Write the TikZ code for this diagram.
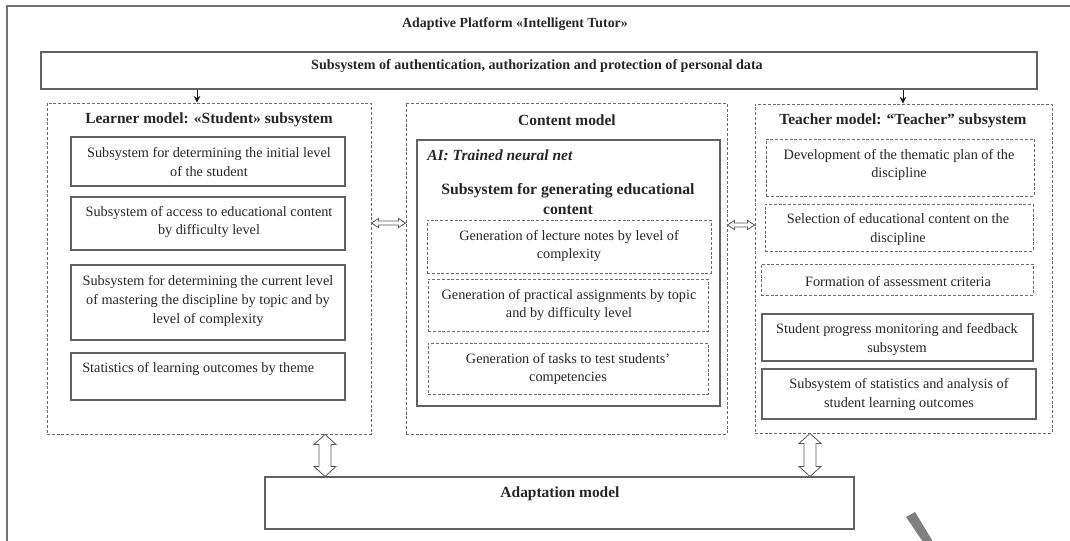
\documentclass[tikz,border=0pt]{standalone}
\usepackage{fontspec}
\setmainfont{Liberation Serif}
\usetikzlibrary{arrows.meta,fit,calc}

\newcommand\boxtextfont{\fontsize{10.7}{14.2}\selectfont}
\newcommand\headfont{\fontsize{11.6}{15}\selectfont\bfseries}

% hollow double-headed block arrows: horizontal (left, right) and vertical (top, bottom)
\newcommand\hollowh[2]{%
  \draw[hollowline] let \p1=(#1), \p2=(#2) in
    (\p1) -- ++(5.25pt,3.4pt) -- ++(0,-1.9pt) -- (\x2-5.25pt,\y1+1.5pt) -- ++(0,1.9pt)
    -- (\x2,\y1) -- ++(-5.25pt,-3.4pt) -- ++(0,1.9pt) -- (\x1+5.25pt,\y1-1.5pt)
    -- ++(0,-1.9pt) -- cycle;}
\newcommand\hollowv[2]{%
  \draw[hollowline] let \p1=(#1), \p2=(#2) in
    (\p1) -- ++(8.25pt,-7.5pt) -- ++(-3.75pt,0) -- (\x1+4.5pt,\y2+7.5pt) -- ++(3.75pt,0)
    -- (\x1,\y2) -- ++(-8.25pt,7.5pt) -- ++(3.75pt,0) -- (\x1-4.5pt,\y1-7.5pt)
    -- ++(-3.75pt,0) -- cycle;}

\begin{document}
\begin{tikzpicture}[x=0.75pt,y=-0.75pt,
  every node/.style={text=black!85},
  outerline/.style={draw=black!55, line width=1.1pt},
  sbox/.style={draw=black!62, line width=0.8pt, inner sep=0pt},
  dbox/.style={draw=black!58, line width=0.7pt, dash pattern=on 2.2pt off 1.4pt, inner sep=0pt},
  txt/.style={inner sep=0pt, align=center, font=\boxtextfont},
  head/.style={inner sep=0pt, font=\headfont},
  hollowline/.style={draw=black!65, line width=0.6pt, fill=white, line join=miter},
  feed/.style={draw=black!90, line width=0.7pt, -{Stealth[length=5pt,width=5pt]}}
]
\useasboundingbox (0,0) rectangle (1070,541);

% platform frame (runs past the page edges)
\draw[outerline] (7,545) -- (7,6) -- (1075,6);
\node[inner sep=0pt, font=\fontsize{10.4}{13}\selectfont\bfseries] (title) at (515,24)
  {Adaptive Platform «Intelligent Tutor»};

% authentication layer
\node[sbox, fit={(41,52) (1037,89)}] (auth) {};
\node[inner sep=0pt, font=\fontsize{10.6}{13}\selectfont\bfseries] (authT) at (537,66)
  {Subsystem of authentication, authorization and protection of personal data};

% learner model
\node[dbox, fit={(47,103) (371,434)}] (learner) {};
\node[head] (learnerT) at (209,120) {Learner model: «Student» subsystem};
\node[sbox, fit={(71,137) (345,186)}] (l1) {};
\node[txt] (l1T) at (209,162) {Subsystem for determining the initial level\\of the student};
\node[sbox, fit={(71,197) (345,250)}] (l2) {};
\node[txt] (l2T) at (209,222) {Subsystem of access to educational content\\by difficulty level};
\node[sbox, fit={(71,265) (345,340)}] (l3) {};
\node[txt] (l3T) at (208,301)
  {Subsystem for determining the current level\\of mastering the discipline by topic and by\\level of complexity};
\node[sbox, fit={(71,353) (345,400)}] (l4) {};
\node[txt, anchor=west] (l4T) at (82,369) {Statistics of learning outcomes by theme};

% content model
\node[dbox, fit={(406,103) (727,434)}] (content) {};
\node[head] (contentT) at (567,120) {Content model};
\node[sbox, fit={(417,140) (720,406)}] (ai) {};
\node[inner sep=0pt, anchor=west, font=\fontsize{11.6}{15}\selectfont\bfseries\itshape] (aiT)
  at (427,155) {AI: Trained neural net};
\node[head, align=center, font=\fontsize{11.8}{15.5}\selectfont\bfseries] (genT) at (568,199)
  {Subsystem for generating educational\\content};
\node[dbox, fit={(427,220) (711,273)}] (g1) {};
\node[txt] (g1T) at (569,246) {Generation of lecture notes by level of\\complexity};
\node[dbox, fit={(428,279) (708,331)}] (g2) {};
\node[txt] (g2T) at (569,305) {Generation of practical assignments by topic\\and by difficulty level};
\node[dbox, fit={(428,343) (708,394)}] (g3) {};
\node[txt] (g3T) at (568,369) {Generation of tasks to test students'\\competencies};

% teacher model
\node[dbox, fit={(755,104) (1052,433)}] (teacher) {};
\node[head] (teacherT) at (903,121) {Teacher model: “Teacher” subsystem};
\node[dbox, fit={(766,139) (1034,196)}] (t1) {};
\node[txt] (t1T) at (899,165) {Development of the thematic plan of the\\discipline};
\node[dbox, fit={(765,204) (1033,251)}] (t2) {};
\node[txt] (t2T) at (898,229.5) {Selection of educational content on the\\discipline};
\node[dbox, fit={(761,264) (1033,295)}] (t3) {};
\node[txt] (t3T) at (898,282) {Formation of assessment criteria};
\node[sbox, fit={(762,314) (1033,361)}] (t4) {};
\node[txt] (t4T) at (897,339.5) {Student progress monitoring and feedback\\subsystem};
\node[sbox, fit={(762,369) (1036,419)}] (t5) {};
\node[txt] (t5T) at (899,394.5) {Subsystem of statistics and analysis of\\student learning outcomes};

% adaptation model
\node[sbox, fit={(265,477) (854,529)}] (adapt) {};
\node[head] (adaptT) at (560,494) {Adaptation model};

% connector guides
\coordinate (fl) at (197,0);
\coordinate (fr) at (903,0);
\coordinate (hl) at (0,223);
\coordinate (hr) at (0,225);
\coordinate (vl) at (325,0);
\coordinate (vr) at (810,0);

\draw[feed] (auth.south -| fl) -- (learner.north -| fl);
\draw[feed] (auth.south -| fr) -- (teacher.north -| fr);

\hollowh{learner.east |- hl}{content.west |- hl}
\hollowh{content.east |- hr}{teacher.west |- hr}
\hollowv{learner.south -| vl}{adapt.north -| vl}
\hollowv{teacher.south -| vr}{adapt.north -| vr}

% grey slash in the lower right corner
\fill[black!50] (906,517) -- (915,512) -- (935,545) -- (925,545) -- cycle;
\end{tikzpicture}
\end{document}
